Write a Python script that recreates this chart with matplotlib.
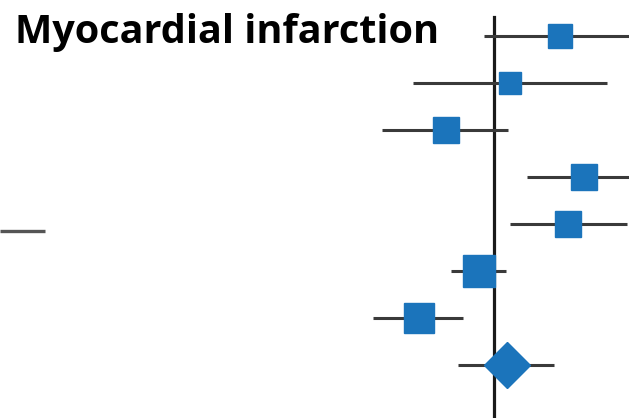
import numpy as np
import matplotlib
matplotlib.use("Agg")
import matplotlib.pyplot as plt

# hazard ratios per study (top to bottom), last row is the pooled estimate
studies = ["S1", "S2", "S3", "S4", "S5", "S6", "S7", "Pooled"]
hr = [1.39, 1.085, 0.785, 1.57, 1.45, 0.926, 0.686, 1.066]
ci_lo = [0.953, 0.667, 0.571, 1.18, 1.083, 0.805, 0.545, 0.834]
ci_hi = [2.10, 1.76, 1.07, 2.20, 1.94, 1.06, 0.856, 1.352]
weights = [10.6, 8.8, 13.4, 14.5, 14.5, 20.3, 17.9]  # study weights (%), drive square size

title = "Myocardial infarction"

# fragment of the neighbouring panel seen at the left edge
frag_row = 4.14
frag_hr = [0.0846, 0.106]

W, H = 629, 418
fig = plt.figure(figsize=(W / 100, H / 100), dpi=100)
ax = fig.add_axes([0, 0, 1, 1])

k = 200.0  # px per ln unit
ax.set_xscale("log")
ax.set_xlim(np.exp(-494 / k), np.exp((W - 494) / k))
ax.set_ylim((H - 36) / 47, -36 / 47)
ax.axis("off")

blue = "#1b74bb"
line_col = "#3a3a3a"
rows = np.arange(len(studies))

# null line
ax.axvline(1.0, ymin=0, ymax=(H - 17) / H, color="#1a1a1a", lw=2.3, zorder=1)

# confidence intervals
ax.hlines(rows, ci_lo, ci_hi, color=line_col, lw=2.2, zorder=2)

# study squares, size ~ sqrt(weight)
for i, w in enumerate(weights):
    ax.plot(hr[i], rows[i], marker="s", ms=5.1 * np.sqrt(w),
            color=blue, mec=blue, zorder=3)

# pooled diamond
ax.plot(hr[-1], rows[-1], marker="D", ms=23, color=blue, mec=blue, zorder=3)

# left-edge fragment
ax.hlines(frag_row, frag_hr[0], frag_hr[1], color="#555555", lw=2.4)

fig.text(15 / W, 1 - 42.7 / H, title, family="Open Sans", fontweight="bold",
         fontsize=28.5, va="baseline", ha="left")

fig.savefig("out.png", dpi=100)
